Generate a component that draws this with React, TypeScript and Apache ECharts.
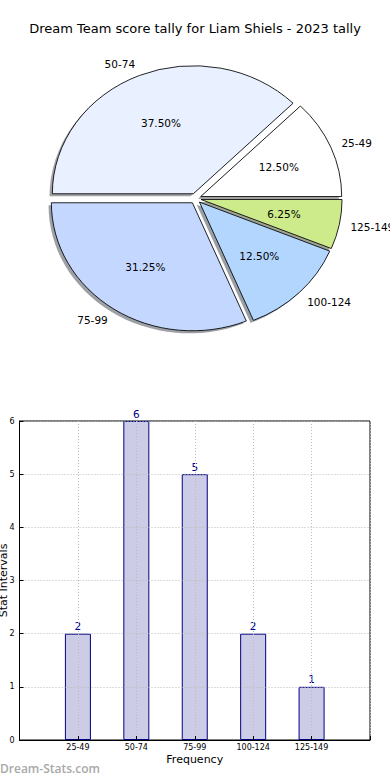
import React, { useEffect, useRef } from 'react';
import * as echarts from 'echarts';

const slices = ['25-49', '50-74', '75-99', '100-124', '125-149'];
const counts = [2, 6, 5, 2, 1];
const sliceColors = ['#ffffff', '#e9f0ff', '#c4d8ff', '#b3d6ff', '#cdeb8b'];
const yTicks = [0, 1, 2, 3, 4, 5, 6];

const FONT = '"DejaVu Sans", sans-serif';

function shadowOf(hex: string) {
  const n = parseInt(hex.slice(1), 16);
  const r = (n >> 16) & 255, g = (n >> 8) & 255, b = n & 255;
  return `rgba(${Math.round(r * 0.3)},${Math.round(g * 0.3)},${Math.round(b * 0.3)},0.5)`;
}

export default function App() {
  const ref = useRef<HTMLDivElement>(null);
  useEffect(() => {
    const chart = echarts.init(ref.current as HTMLDivElement, null, { renderer: 'svg' });
    const total = counts.reduce((a, b) => a + b, 0);
    const cx = 195.5, cy = 198.5, rx = 141, ry = 128, explode = 0.04;
    const k = ry / rx;

    const renderPie = (params: any, api: any) => {
      const i = params.dataIndex;
      const v = api.value(0);
      let before = 0;
      for (let j = 0; j < i; j++) before += counts[j];
      const a1 = (before / total) * Math.PI * 2;
      const a2 = ((before + v) / total) * Math.PI * 2;
      const am = (a1 + a2) / 2;
      const ex = cx + explode * rx * Math.cos(am);
      const ey = cy - explode * ry * Math.sin(am);
      const shape = { cx: 0, cy: 0, r: rx, r0: 0, startAngle: -a2, endAngle: -a1, clockwise: true };
      const lx = ex + 1.08 * rx * Math.cos(am);
      const ly = ey - 1.1 * ry * Math.sin(am);
      const px = ex + 0.6 * rx * Math.cos(am);
      const py = ey - 0.6 * ry * Math.sin(am);
      const alignL = Math.cos(am) >= 0 ? 'left' : 'right';
      return {
        type: 'group',
        children: [
          {
            type: 'sector',
            shape,
            x: ex - 0.02 * rx,
            y: ey + 0.02 * ry,
            scaleY: k,
            z2: 0,
            style: { fill: shadowOf(sliceColors[i]), stroke: 'none' },
          },
          {
            type: 'sector',
            shape,
            x: ex,
            y: ey,
            scaleY: k,
            z2: 10,
            style: { fill: sliceColors[i], stroke: '#000', lineWidth: 0.9 },
          },
          {
            type: 'text',
            x: px,
            y: py,
            z2: 20,
            style: {
              text: ((v / total) * 100).toFixed(2) + '%',
              fill: '#000',
              font: `10.5px ${FONT}`,
              align: 'center',
              verticalAlign: 'middle',
              textAlign: 'center',
              textVerticalAlign: 'middle',
            },
          },
          {
            type: 'text',
            x: lx,
            y: ly,
            z2: 20,
            style: {
              text: slices[i],
              fill: '#000',
              font: `10.5px ${FONT}`,
              align: alignL,
              verticalAlign: 'middle',
              textAlign: alignL,
              textVerticalAlign: 'middle',
            },
          },
        ],
      };
    };

    chart.setOption({
      animation: false,
      textStyle: { fontFamily: FONT },
      title: {
        text: 'Dream Team score tally for Liam Shiels - 2023 tally',
        left: 'center',
        top: 22,
        padding: 0,
        textStyle: { fontSize: 13, fontWeight: 'normal', color: '#000', fontFamily: FONT },
      },
      grid: {
        left: 19.5,
        right: 20,
        top: 421,
        bottom: 40,
        outerBoundsMode: 'none',
        containLabel: false,
        show: true,
        borderColor: '#000',
        borderWidth: 1,
        backgroundColor: '#fff',
      },
      xAxis: {
        type: 'value',
        min: 0,
        max: 6,
        interval: 1,
        z: 5,
        name: 'Frequency',
        nameLocation: 'middle',
        nameGap: 14,
        nameMoveOverlap: false,
        nameTextStyle: { fontSize: 11, color: '#000', verticalAlign: 'top' },
        axisLine: { show: true, lineStyle: { color: '#000', width: 1 } },
        axisTick: { show: true, inside: true, length: 4, lineStyle: { color: '#000' } },
        axisLabel: {
          fontSize: 8,
          color: '#000',
          margin: 3,
          formatter: (val: number) => slices[val - 1] || '',
        },
        splitLine: { show: true, lineStyle: { color: '#bbbbbb', type: [1, 2], width: 1 } },
      },
      yAxis: {
        type: 'value',
        min: 0,
        max: 6,
        interval: 1,
        z: 5,
        name: 'Stat Intervals',
        nameLocation: 'middle',
        nameGap: 11,
        nameMoveOverlap: false,
        nameTextStyle: { fontSize: 11, color: '#000' },
        axisLine: { show: true, lineStyle: { color: '#000', width: 1 } },
        axisTick: { show: true, inside: true, length: 4, lineStyle: { color: '#000' } },
        axisLabel: {
          fontSize: 8,
          color: '#000',
          margin: 5,
          formatter: (val: number) => (yTicks.indexOf(val) >= 0 ? String(val) : ''),
        },
        splitLine: { show: true, lineStyle: { color: '#bbbbbb', type: [1, 2], width: 1 } },
      },
      graphic: [
        {
          type: 'text',
          left: 0,
          top: 762,
          style: { text: 'Dream-Stats.com', fill: '#a8a8a8', font: `600 12px "Open Sans", sans-serif` },
        },
      ],
      series: [
        {
          type: 'custom',
          coordinateSystem: 'none',
          renderItem: renderPie,
          data: counts,
          silent: true,
        },
        {
          type: 'bar',
          data: counts.map((c, i) => [i + 1, c]),
          barWidth: 26,
          itemStyle: { color: '#cccce6', borderColor: '#000080', borderWidth: 1 },
          label: { show: true, position: 'top', distance: 2, color: '#00008b', fontSize: 10.5 },
        },
      ],
    });
    return () => chart.dispose();
  }, []);
  return (
    <div
      ref={ref}
      style={{ position: 'fixed', left: 0, top: 0, width: 390, height: 780, background: '#fff' }}
    />
  );
}
